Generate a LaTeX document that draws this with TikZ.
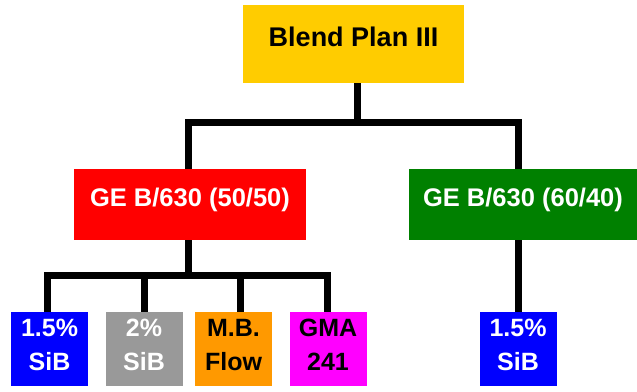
\documentclass[tikz,border=0pt]{standalone}
\usepackage{fontspec}
\setmainfont{Liberation Sans}
\definecolor{cyel}{RGB}{255,204,0}
\definecolor{cred}{RGB}{255,0,0}
\definecolor{cgreen}{RGB}{0,128,0}
\definecolor{cblue}{RGB}{0,0,255}
\definecolor{cgray}{RGB}{153,153,153}
\definecolor{corange}{RGB}{255,153,0}
\definecolor{cmag}{RGB}{255,0,255}
\newcommand{\lowdp}{\rule[-8pt]{0pt}{8pt}}
\begin{document}
\begin{tikzpicture}[x=1pt,y=-1pt,
  box/.style={draw=none, inner sep=0pt, align=center},
  onebox/.style={box, text height=0.73em, text depth=0.25em},
  midbox/.style={onebox, minimum height=71pt, font=\bfseries\fontsize{25.5}{30}\selectfont, text=white},
  leaf/.style={box, minimum width=77pt, minimum height=74pt, font=\bfseries\fontsize{25}{34}\selectfont},
  conn/.style={line width=7pt, draw=black}]
\useasboundingbox (0,0) rectangle (637,391);
\node[onebox, fill=cyel, minimum width=221pt, minimum height=78pt, font=\bfseries\fontsize{27}{32}\selectfont] (top) at (353.5,44) {Blend Plan III};
\node[midbox, fill=cred, minimum width=232pt] (red) at (190,204.5) {GE B/630 (50/50)};
\node[midbox, fill=cgreen, minimum width=228pt] (green) at (523,204.5) {GE B/630 (60/40)};
\node[leaf, fill=cblue, text=white] (b1) at (49.5,349) {1.5\%\\SiB\lowdp};
\node[leaf, fill=cgray, text=white] (b2) at (144,349) {2\%\\SiB\lowdp};
\node[leaf, fill=corange, text=black] (b3) at (233.5,349) {M.B.\\Flow\lowdp};
\node[leaf, fill=cmag, text=black] (b4) at (328,349) {GMA\\241\lowdp};
\node[leaf, fill=cblue, text=white] (b5) at (518,349) {1.5\%\\SiB\lowdp};
\draw[conn] ([xshift=3.5pt]top.south) -- ++(0,39) coordinate (j1);
\draw[conn] ([xshift=-2pt]red.north) |- (j1) -| ([xshift=-5pt]green.north);
\draw[conn] ([xshift=-2pt]red.south) -- ++(0,35) coordinate (j2);
\draw[conn] ([xshift=-2.5pt]b1.north) |- (j2) -| ([xshift=-1pt]b4.north);
\draw[conn] (b2.north) -- (b2.north |- j2);
\draw[conn] ([xshift=6.5pt]b3.north) -- ([xshift=6.5pt]b3.north |- j2);
\draw[conn] ([xshift=-5pt]green.south) -- ([xshift=-5pt]green.south |- b5.north);
\end{tikzpicture}
\end{document}
